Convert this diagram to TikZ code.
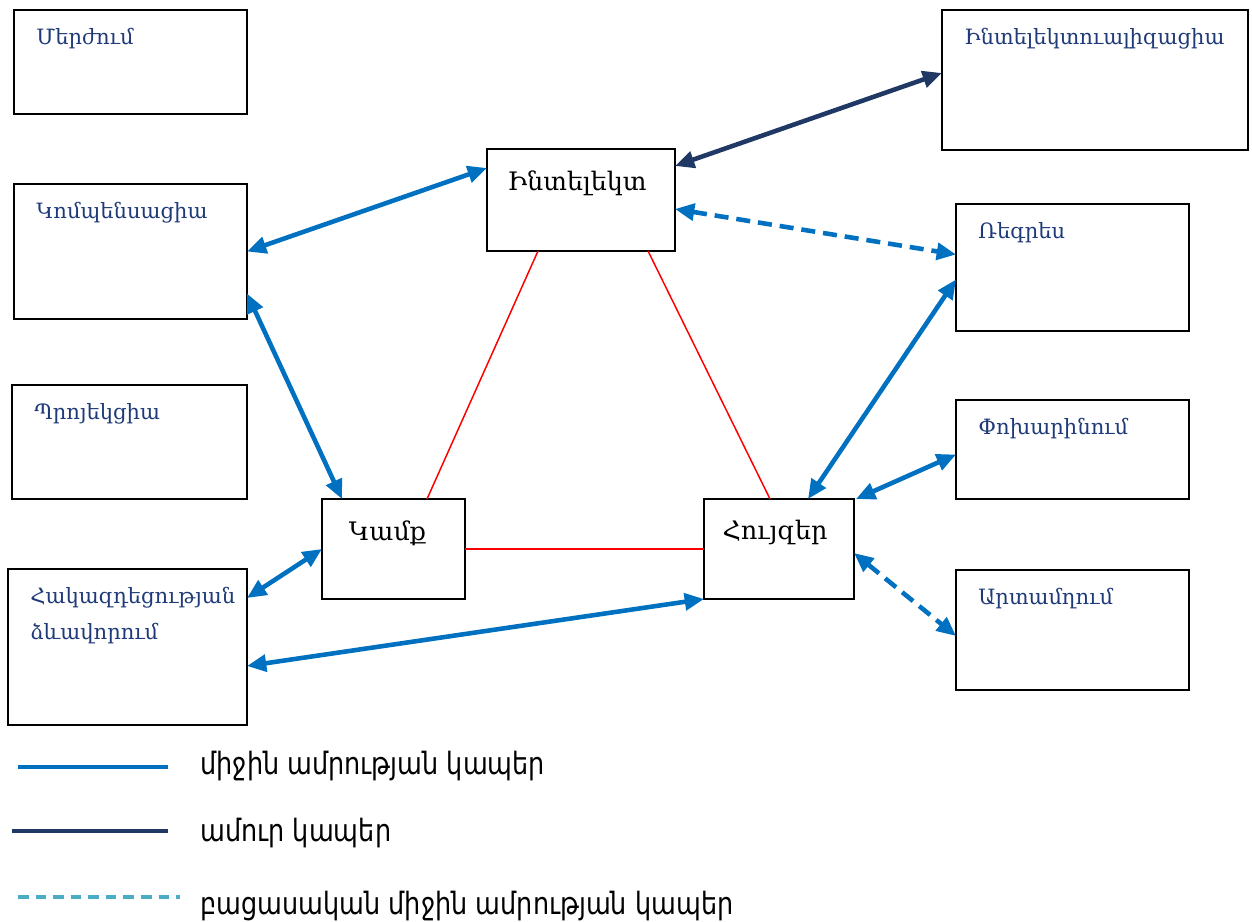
\documentclass[tikz,border=0pt]{standalone}
\usepackage{fontspec}
\setmainfont{DejaVu Serif}
\newfontfamily\legfont[FakeStretch=0.83]{DejaVu Sans}
\usetikzlibrary{arrows.meta,calc}
\definecolor{midblue}{HTML}{0070C0}
\definecolor{navyc}{HTML}{1F3864}
\definecolor{lbltxt}{HTML}{1F3A78}
\definecolor{legteal}{HTML}{4BACC6}
\definecolor{redc}{HTML}{FF0000}
\tikzset{
  dbox/.style={draw=black, line width=1.1pt, inner sep=0pt, outer sep=0pt, fill=white},
  sidelbl/.style={anchor=north west, inner sep=0pt, xshift=0.44cm, yshift=-0.36cm, font=\fontsize{12}{20.5}\selectfont, text=lbltxt, align=left},
  midlbl/.style={anchor=north, inner sep=0pt, yshift=-0.42cm, font=\fontsize{14.5}{17}\selectfont, text=black},
  midlink/.style={draw=midblue, line width=2.6pt, {Triangle[length=11pt,width=9.5pt]}-{Triangle[length=11pt,width=9.5pt]}},
  stronglink/.style={draw=navyc, line width=2.6pt, {Triangle[length=11pt,width=9.5pt]}-{Triangle[length=11pt,width=9.5pt]}},
  neglink/.style={midlink, dash pattern=on 8pt off 4.5pt},
  redlink/.style={draw=redc, line width=0.85pt},
  legtext/.style={anchor=west, inner sep=0pt, font=\legfont\fontsize{17.5}{20}\selectfont, text=black}
}
\begin{document}
\begin{tikzpicture}[x=0.02cm, y=-0.02cm]
\useasboundingbox (0,0) rectangle (1252,922);
% boxes
\node[dbox, minimum width=4.66cm, minimum height=2.08cm, label={[sidelbl]north west:Մերժում}] (merzh) at (130.5,62) {};
\node[dbox, minimum width=6.12cm, minimum height=2.80cm, label={[sidelbl]north west:Ինտելեկտուալիզացիա}] (intz) at (1095,80) {};
\node[dbox, minimum width=4.66cm, minimum height=2.70cm, label={[sidelbl]north west:Կոմպենսացիա}] (komp) at (130.5,251.5) {};
\node[dbox, minimum width=3.76cm, minimum height=2.04cm, label={[midlbl, xshift=-0.08cm]north:Ինտելեկտ}] (intel) at (581,200) {};
\node[dbox, minimum width=4.66cm, minimum height=2.54cm, label={[sidelbl]north west:Ռեգրես}] (regr) at (1072.5,267.5) {};
\node[dbox, minimum width=4.70cm, minimum height=2.28cm, label={[sidelbl]north west:Պրոյեկցիա}] (proj) at (129.5,442) {};
\node[dbox, minimum width=4.66cm, minimum height=1.98cm, label={[sidelbl]north west:Փոխարինում}] (phox) at (1072.5,449.5) {};
\node[dbox, minimum width=2.86cm, minimum height=2.00cm, label={[midlbl, xshift=-0.12cm]north:Կամք}] (kamq) at (393.5,549) {};
\node[dbox, minimum width=3.00cm, minimum height=2.00cm, label={[midlbl, xshift=-0.08cm]north:Հույզեր}] (houz) at (779,549) {};
\node[dbox, minimum width=4.78cm, minimum height=3.12cm, label={[sidelbl]north west:Հակազդեցության\\ձևավորում}] (hak) at (127.5,647) {};
\node[dbox, minimum width=4.66cm, minimum height=2.40cm, label={[sidelbl]north west:Արտամղում}] (art) at (1072.5,630) {};
% red lines
\draw[redlink] ($(intel.south west)+(51,0)$) -- ($(kamq.north west)+(105,0)$);
\draw[redlink] ($(intel.south west)+(161,0)$) -- ($(houz.north west)+(66,0)$);
\draw[redlink] (kamq.east) -- (houz.west);
% blue links
\draw[midlink] (komp.east) -- ($(intel.west)+(0,-32)$);
\draw[midlink] ($(komp.east)+(0,42)$) -- ($(kamq.north west)+(20,0)$);
\draw[midlink] (kamq.west) -- ($(hak.east)+(0,-49)$);
\draw[midlink] ($(hak.east)+(0,19)$) -- (houz.south west);
\draw[stronglink] ($(intel.east)+(0,-34)$) -- ($(intz.west)+(0,-7)$);
\draw[neglink] ($(intel.east)+(0,9)$) -- ($(regr.west)+(0,-13)$);
\draw[midlink] ($(houz.north west)+(104,0)$) -- ($(regr.west)+(0,12)$);
\draw[midlink] ($(houz.north east)+(2,0)$) -- ($(phox.west)+(0,5)$);
\draw[neglink] ($(houz.east)+(0,4)$) -- ($(art.west)+(0,6)$);
% legend
\coordinate (la1) at (18,767); \coordinate (lb1) at (168,767);
\coordinate (la2) at (12,831); \coordinate (lb2) at (168,831);
\coordinate (la3) at (18,897); \coordinate (lb3) at (180,897);
\draw[draw=midblue, line width=2.4pt] (la1) -- (lb1);
\draw[draw=navyc, line width=2.4pt] (la2) -- (lb2);
\draw[draw=legteal, line width=1.8pt, dash pattern=on 6pt off 4pt] (la3) -- (lb3);
\node[legtext] (lt1) at (200,766) {միջին ամրության կապեր};
\node[legtext] (lt2) at (200,833) {ամուր կապեր};
\node[legtext] (lt3) at (200,906) {բացասական միջին ամրության կապեր};
\end{tikzpicture}
\end{document}
